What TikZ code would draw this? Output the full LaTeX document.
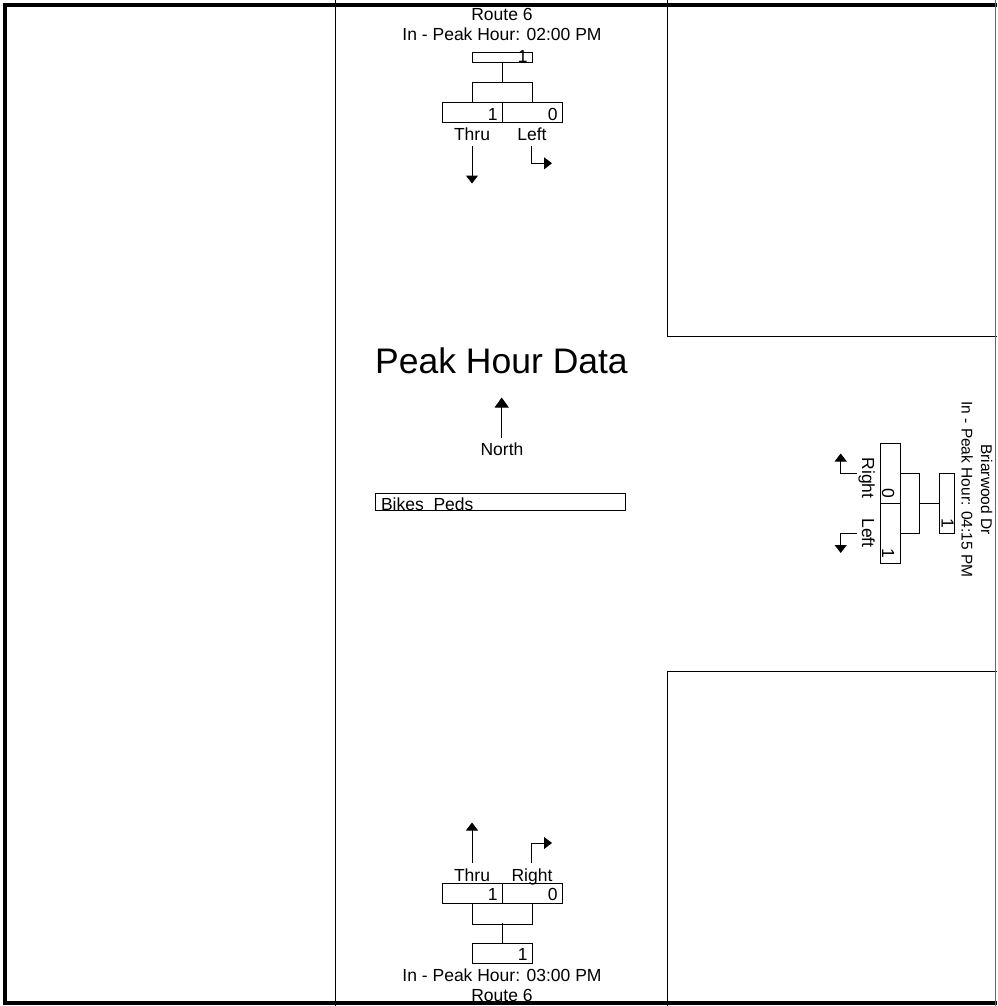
\documentclass[tikz,border=0pt]{standalone}
\usepackage{fontspec}
\setmainfont{Liberation Sans}
\usetikzlibrary{arrows.meta}
\begin{document}
\begin{tikzpicture}[x=1pt,y=-1pt,
  txt/.style={font=\fontsize{17.5}{20}\selectfont, inner sep=0pt, outer sep=0pt},
  rtxt/.style={font=\fontsize{15.5}{18}\selectfont, inner sep=0pt, outer sep=0pt},
  bigtxt/.style={font=\fontsize{35.5}{40}\selectfont, inner sep=0pt, outer sep=0pt},
  ln/.style={line width=1pt, draw=black},
  numbox/.style={draw=black, line width=1pt, inner sep=0pt, outer sep=0pt, anchor=north west},
  hbox/.style={numbox, minimum width=60pt, minimum height=20pt},
  vbox/.style={numbox, minimum width=20pt, minimum height=60pt},
  arr/.style={line width=1pt, -{Triangle[width=12pt,length=8pt]}},
  border/.style={line width=4pt, draw=black},
]
\useasboundingbox (0,0) rectangle (997,1006);

% road edges
\draw[ln] (335.3,0) -- (335.3,1006);
\draw[ln] (667,0) -- (667,336) -- (997,336);
\draw[ln] (997,671) -- (667,671) -- (667,1006);

% ---------- North leg (southbound) ----------
\node[txt, anchor=base] (ntitle) at (502,21) {Route 6};
\node[txt, anchor=base] (npeak) at (502,41) {In - Peak Hour: 02:00 PM};
\node[numbox, minimum width=60pt, minimum height=10pt] (nin) at (472,53) {};
\node[txt, anchor=base east] at ([xshift=-4.5pt,yshift=0.5pt]nin.south east) {1};
\node[hbox] (nthru) at (442,103) {};
\node[hbox] (nleft) at (502,103) {};
\node[txt, anchor=base east] at ([xshift=-4.5pt,yshift=2.5pt]nthru.south east) {1};
\node[txt, anchor=base east] at ([xshift=-4.5pt,yshift=2.5pt]nleft.south east) {0};
\draw[ln] (nin.south) -- ++(0,20);
\draw[ln] (nthru.north) -- ++(0,-20) -| (nleft.north);
\node[txt, anchor=base] (nthrul) at (472,140) {Thru};
\node[txt, anchor=base] (nleftl) at (532,140) {Left};
\coordinate (nthrua) at (472,146);
\coordinate (nthrub) at (472,183.5);
\coordinate (nlefta) at (531.5,146);
\coordinate (nleftb) at (552,163.3);
\draw[arr] (nthrua) -- (nthrub);
\draw[arr] (nlefta) |- (nleftb);

% ---------- South leg (northbound) ----------
\coordinate (sthrua) at (472,863);
\coordinate (sthrub) at (472,822.5);
\coordinate (srighta) at (531.7,863);
\coordinate (srightb) at (552,843);
\draw[arr] (sthrua) -- (sthrub);
\draw[arr] (srighta) |- (srightb);
\node[txt, anchor=base] (sthrul) at (472,881) {Thru};
\node[txt, anchor=base] (srightl) at (532,881) {Right};
\node[hbox] (sthru) at (442,883) {};
\node[hbox] (sright) at (502,883) {};
\node[txt, anchor=base east] at ([xshift=-4.5pt,yshift=2.5pt]sthru.south east) {1};
\node[txt, anchor=base east] at ([xshift=-4.5pt,yshift=2.5pt]sright.south east) {0};
\node[hbox] (sin) at (472,943) {};
\node[txt, anchor=base east] at ([xshift=-4.5pt,yshift=2.5pt]sin.south east) {1};
\draw[ln] (sthru.south) -- ++(0,21) -| (sright.south);
\draw[ln] (sin.north) -- ++(0,-20);
\node[txt, anchor=base] (speak) at (502,981.5) {In - Peak Hour: 03:00 PM};
\node[txt, anchor=base] (stitle) at (502,1001.5) {Route 6};

% ---------- East leg (westbound) ----------
\node[rtxt, anchor=base, rotate=-90] (etitle) at (981,489.5) {Briarwood Dr};
\node[rtxt, anchor=base, rotate=-90] (epeak) at (961.5,489.5) {In - Peak Hour: 04:15 PM};
\node[numbox, minimum width=15pt, minimum height=60pt] (ein) at (939.3,473) {};
\node[txt, anchor=base east, rotate=-90] at ([xshift=2.4pt,yshift=4.5pt]ein.south west) {1};
\node[vbox] (eright) at (880,443) {};
\node[vbox] (eleft) at (880,503) {};
\node[txt, anchor=base east, rotate=-90] at ([xshift=2pt,yshift=4.5pt]eright.south west) {0};
\node[txt, anchor=base east, rotate=-90] at ([xshift=2pt,yshift=4.5pt]eleft.south west) {1};
\draw[ln] (ein.west) -- ++(-20,0);
\draw[ln] (eright.east) -- ++(19.3,0) |- (eleft.east);
\node[txt, anchor=base, rotate=-90] (erightl) at (862,478) {Right};
\node[txt, anchor=base, rotate=-90] (eleftl) at (862,533) {Left};
\coordinate (erighta) at (856.7,473.3);
\coordinate (erightb) at (840.7,453.5);
\coordinate (elefta) at (856.7,533.3);
\coordinate (eleftb) at (840.7,553);
\draw[arr] (erighta) -| (erightb);
\draw[arr] (elefta) -| (eleftb);

% ---------- Centre ----------
\node[bigtxt, anchor=base] (title) at (501.5,373) {Peak Hour Data};
\coordinate (northa) at (501.7,438);
\coordinate (northb) at (501.7,397.5);
\draw[line width=1pt, -{Triangle[width=14pt,length=10pt]}] (northa) -- (northb);
\node[txt, anchor=base] (north) at (502,455) {North};
\node[draw=black, line width=1pt, inner sep=0pt, outer sep=0pt, minimum width=250.7pt, minimum height=17.4pt, anchor=north west] (bp) at (375,493.3) {};
\node[txt, anchor=base west] (bpl) at (381,510) {Bikes\ \ Peds};

% ---------- frame ----------
\draw[border] (2.7,4.7) -- (997,4.7);
\draw[border] (4.7,2.7) -- (4.7,1004.5);
\draw[border] (2.7,1002.5) -- (997,1002.5);
\draw[line width=1pt, draw=black!60] (995.5,0) -- (995.5,1006);
\end{tikzpicture}
\end{document}
